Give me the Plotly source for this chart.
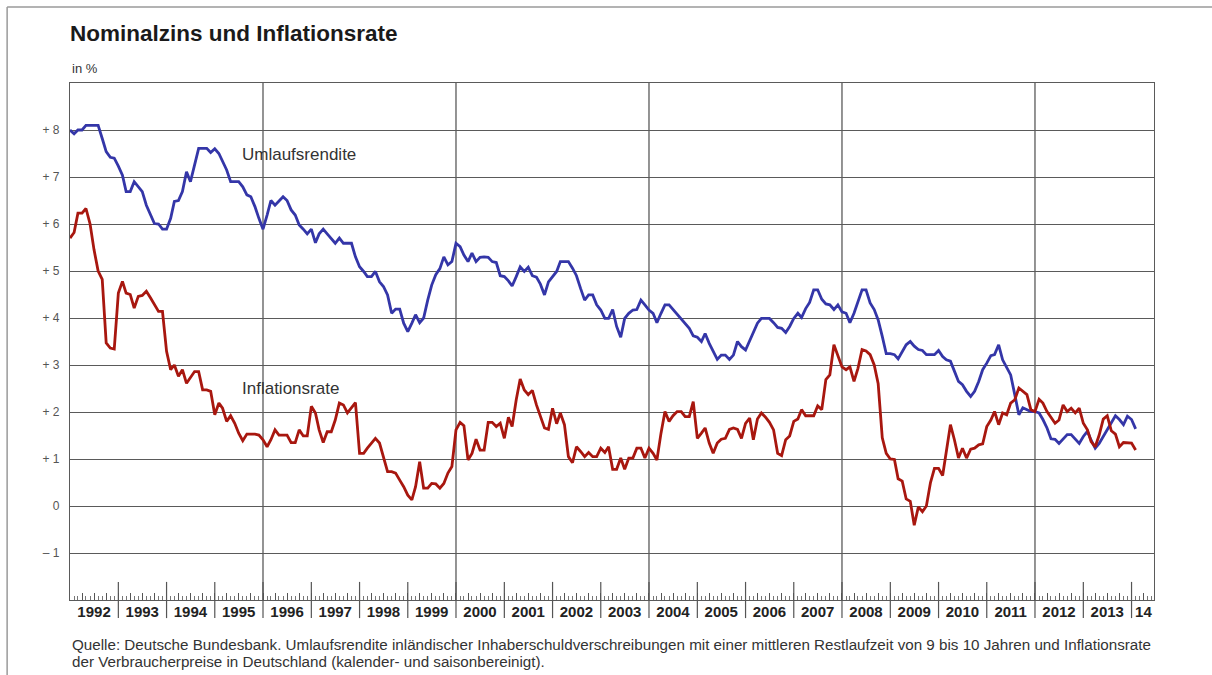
import pandas as pd
import plotly.graph_objects as go

# ---------------- data (monthly, from Jan 1992) ----------------
start_month = "1992-01-01"

umlaufsrendite = [
    8.0, 7.92, 8.0, 8.0, 8.1, 8.1, 8.1, 8.1, 7.82, 7.54, 7.42, 7.4,
    7.23, 7.04, 6.69, 6.69, 6.9, 6.8, 6.69, 6.4, 6.19, 6.01, 6.0, 5.89,
    5.89, 6.12, 6.48, 6.5, 6.69, 7.11, 6.9, 7.26, 7.61, 7.61, 7.61, 7.52,
    7.6, 7.5, 7.33, 7.15, 6.9, 6.9, 6.9, 6.79, 6.62, 6.58, 6.37, 6.12,
    5.89, 6.19, 6.5, 6.4, 6.5, 6.58, 6.5, 6.3, 6.19, 5.98, 5.89, 5.79,
    5.89, 5.6, 5.79, 5.89, 5.79, 5.7, 5.59, 5.7, 5.59, 5.59, 5.59, 5.3,
    5.09, 4.99, 4.88, 4.88, 4.99, 4.77, 4.67, 4.49, 4.1, 4.19, 4.19, 3.89,
    3.71, 3.89, 4.07, 3.9, 4.0, 4.38, 4.7, 4.92, 5.05, 5.3, 5.13, 5.2,
    5.59, 5.52, 5.34, 5.2, 5.38, 5.2, 5.29, 5.3, 5.29, 5.2, 5.18, 4.9,
    4.88, 4.79, 4.68, 4.88, 5.09, 4.99, 5.08, 4.9, 4.87, 4.72, 4.49, 4.77,
    4.88, 4.99, 5.2, 5.2, 5.2, 5.06, 4.9, 4.63, 4.38, 4.49, 4.49, 4.28,
    4.17, 3.99, 3.99, 4.18, 3.82, 3.59, 3.99, 4.1, 4.17, 4.18, 4.38, 4.28,
    4.17, 4.1, 3.9, 4.1, 4.28, 4.28, 4.18, 4.1, 3.99, 3.89, 3.78, 3.62,
    3.59, 3.5, 3.67, 3.46, 3.3, 3.12, 3.21, 3.21, 3.12, 3.21, 3.5, 3.39,
    3.32, 3.52, 3.71, 3.89, 3.99, 3.99, 3.99, 3.9, 3.8, 3.78, 3.69, 3.82,
    3.99, 4.1, 4.01, 4.2, 4.33, 4.6, 4.6, 4.4, 4.3, 4.28, 4.18, 4.28,
    4.13, 4.1, 3.9, 4.1, 4.35, 4.6, 4.6, 4.32, 4.18, 3.96, 3.61, 3.24,
    3.24, 3.22, 3.13, 3.29, 3.43, 3.5, 3.4, 3.33, 3.31, 3.22, 3.22, 3.22,
    3.31, 3.18, 3.11, 3.08, 2.87, 2.65, 2.58, 2.44, 2.33, 2.44, 2.65, 2.9,
    3.04, 3.2, 3.22, 3.43, 3.11, 2.94, 2.79, 2.37, 1.94, 2.09, 2.05, 2.01,
    2.01, 1.98, 1.84, 1.66, 1.43, 1.42, 1.33, 1.43, 1.52, 1.52, 1.43, 1.33,
    1.48, 1.59, 1.4, 1.23, 1.33, 1.48, 1.62, 1.78, 1.92, 1.84, 1.73, 1.91,
    1.84, 1.64,
]

inflationsrate = [
    5.7, 5.82, 6.23, 6.23, 6.33, 6.0, 5.45, 5.0, 4.82, 3.47, 3.36, 3.34,
    4.53, 4.78, 4.53, 4.5, 4.21, 4.46, 4.48, 4.57, 4.43, 4.28, 4.14, 4.14,
    3.29, 2.9, 3.0, 2.76, 2.9, 2.61, 2.72, 2.86, 2.86, 2.47, 2.47, 2.44,
    1.94, 2.19, 2.08, 1.8, 1.92, 1.76, 1.55, 1.39, 1.53, 1.53, 1.53, 1.51,
    1.41, 1.26, 1.41, 1.62, 1.51, 1.51, 1.51, 1.35, 1.35, 1.62, 1.49, 1.49,
    2.12, 1.98, 1.62, 1.35, 1.58, 1.58, 1.83, 2.19, 2.15, 1.98, 2.08, 2.2,
    1.12, 1.12, 1.23, 1.34, 1.44, 1.34, 1.05, 0.73, 0.73, 0.7, 0.55, 0.41,
    0.23, 0.13, 0.41, 0.94, 0.38, 0.38, 0.48, 0.47, 0.38, 0.48, 0.7, 0.84,
    1.62, 1.78, 1.71, 0.98, 1.12, 1.42, 1.19, 1.19, 1.78, 1.78, 1.69, 1.76,
    1.44, 1.89, 1.69, 2.26, 2.7, 2.47, 2.37, 2.46, 2.15, 1.9, 1.66, 1.63,
    2.08, 1.75, 1.98, 1.73, 1.05, 0.92, 1.26, 1.16, 1.05, 1.14, 1.05, 1.05,
    1.23, 1.14, 1.26, 0.78, 0.78, 1.02, 0.78, 1.02, 1.02, 1.23, 1.23, 1.02,
    1.23, 1.12, 0.98, 1.55, 2.01, 1.8, 1.92, 2.01, 2.01, 1.9, 1.9, 2.22,
    1.44, 1.55, 1.66, 1.34, 1.12, 1.34, 1.42, 1.44, 1.63, 1.66, 1.63, 1.44,
    1.76, 1.87, 1.41, 1.85, 1.98, 1.89, 1.78, 1.62, 1.12, 1.07, 1.41, 1.49,
    1.8, 1.85, 2.05, 1.92, 1.92, 1.92, 2.13, 2.05, 2.69, 2.79, 3.43, 3.18,
    2.96, 2.9, 2.96, 2.65, 2.93, 3.33, 3.3, 3.22, 3.0, 2.6, 1.45, 1.12,
    1.0, 0.99, 0.58, 0.53, 0.15, 0.1, -0.41, -0.02, -0.12, 0.0, 0.5, 0.8,
    0.8, 0.65, 1.15, 1.73, 1.41, 1.02, 1.23, 1.02, 1.21, 1.23, 1.3, 1.32,
    1.69, 1.83, 2.01, 1.73, 1.98, 1.94, 2.19, 2.26, 2.51, 2.44, 2.37, 2.05,
    2.01, 2.27, 2.19, 2.01, 1.9, 1.76, 1.83, 2.15, 2.01, 2.08, 1.98, 2.08,
    1.76, 1.62, 1.37, 1.26, 1.51, 1.85, 1.92, 1.6, 1.53, 1.26, 1.35, 1.35,
    1.34, 1.19,
]

year_boundaries = list(range(1993, 2015))
grid_years = [1996, 2000, 2004, 2008, 2012]
year_labels = [str(y) for y in range(1992, 2014)] + ["14"]
y_ticks = [-1, 0, 1, 2, 3, 4, 5, 6, 7, 8]
y_tick_text = ["\u2013 1", "0", "+ 1", "+ 2", "+ 3", "+ 4", "+ 5", "+ 6", "+ 7", "+ 8"]
x_end = "2014-06-20"

# ---------------- figure ----------------
months = pd.date_range(start_month, periods=len(umlaufsrendite), freq="MS")

BLUE = "#3436a8"
RED = "#a8170f"
GRID = "#5a5a5a"
FONT = "Liberation Sans, Arial, sans-serif"

fig = go.Figure()
fig.add_trace(go.Scatter(x=months, y=umlaufsrendite, mode="lines",
                         line=dict(color=BLUE, width=2.8), name="Umlaufsrendite",
                         hoverinfo="skip"))
fig.add_trace(go.Scatter(x=months, y=inflationsrate, mode="lines",
                         line=dict(color=RED, width=2.8), name="Inflationsrate",
                         hoverinfo="skip"))

# quarterly ticks, labels under mid-year (July); "14" under April 2014
quarters = pd.date_range(start_month, x_end, freq="QS")
q_text = []
for d in quarters:
    if d.year < 2014 and d.month == 7:
        q_text.append(year_labels[d.year - 1992])
    elif d.year == 2014 and d.month == 4:
        q_text.append(year_labels[-1])
    else:
        q_text.append("")

fig.update_xaxes(
    type="date", range=[start_month, x_end],
    tickmode="array", tickvals=quarters, ticktext=q_text,
    ticks="inside", ticklen=7, tickwidth=1, tickcolor="#555",
    minor=dict(ticks="inside", ticklen=4, dtick="M1", tick0=start_month,
               tickcolor="#777", tickwidth=1, showgrid=False),
    showgrid=False, showline=True, mirror=True, linecolor=GRID, linewidth=1.3,
    tickfont=dict(family=FONT, size=15, color="#222", weight="bold"),
    ticklabelstandoff=-2,
)
fig.update_yaxes(
    range=[-2, 9], tickmode="array", tickvals=y_ticks, ticktext=y_tick_text,
    showgrid=True, gridcolor=GRID, gridwidth=1.3, zeroline=False,
    showline=True, mirror=True, linecolor=GRID, linewidth=1.3,
    ticks="", ticklabelstandoff=7,
    tickfont=dict(family=FONT, size=12, color="#555"),
)

shapes = []
for y in grid_years:
    shapes.append(dict(type="line", xref="x", yref="paper",
                       x0=f"{y}-01-01", x1=f"{y}-01-01", y0=0, y1=1,
                       line=dict(color=GRID, width=1.3), layer="below"))
for y in year_boundaries:
    shapes.append(dict(type="line", xref="x", yref="paper",
                       x0=f"{y}-01-01", x1=f"{y}-01-01", y0=-0.035, y1=0.035,
                       line=dict(color="#555", width=1.2)))
# page frame (top and left edges)
shapes.append(dict(type="line", xref="paper", yref="paper",
                   x0=-0.058, x1=1.06, y0=1.147, y1=1.147,
                   line=dict(color="#9a9a9a", width=1.5)))
shapes.append(dict(type="line", xref="paper", yref="paper",
                   x0=-0.058, x1=-0.058, y0=1.147, y1=-0.2,
                   line=dict(color="#9a9a9a", width=1.5)))

annotations = [
    dict(text="in %", xref="paper", yref="paper", x=0, y=1.029,
         xanchor="left", yanchor="middle", showarrow=False,
         font=dict(family=FONT, size=13, color="#333")),
    dict(text="Umlaufsrendite", xref="x", yref="y", x="1995-07-08", y=7.47,
         xanchor="left", yanchor="middle", showarrow=False,
         font=dict(family=FONT, size=17, color="#333")),
    dict(text="Inflationsrate", xref="x", yref="y", x="1995-07-08", y=2.49,
         xanchor="left", yanchor="middle", showarrow=False,
         font=dict(family=FONT, size=17, color="#333")),
    dict(text="Quelle: Deutsche Bundesbank. Umlaufsrendite inländischer Inhaberschuldverschreibungen "
              "mit einer mittleren Restlaufzeit von 9 bis 10 Jahren und Inflationsrate",
         xref="paper", yref="paper", x=0, y=-0.087, xanchor="left", yanchor="middle",
         showarrow=False, font=dict(family=FONT, size=15.2, color="#333")),
    dict(text="der Verbraucherpreise in Deutschland (kalender- und saisonbereinigt).",
         xref="paper", yref="paper", x=0, y=-0.118, xanchor="left", yanchor="middle",
         showarrow=False, font=dict(family=FONT, size=15.2, color="#333")),
]

fig.update_layout(
    width=1212, height=675,
    margin=dict(l=70, r=58, t=83, b=75),
    paper_bgcolor="white", plot_bgcolor="white",
    showlegend=False,
    title=dict(text="<b>Nominalzins und Inflationsrate</b>", xref="container",
               x=70 / 1212, xanchor="left", y=1 - 33 / 675, yanchor="middle",
               font=dict(family=FONT, size=22.5, color="#1a1a1a")),
    shapes=shapes, annotations=annotations,
)

fig.write_html("out.html", config={"displayModeBar": False},
               post_script="document.body.style.margin='0px';document.body.style.overflow='hidden';")
